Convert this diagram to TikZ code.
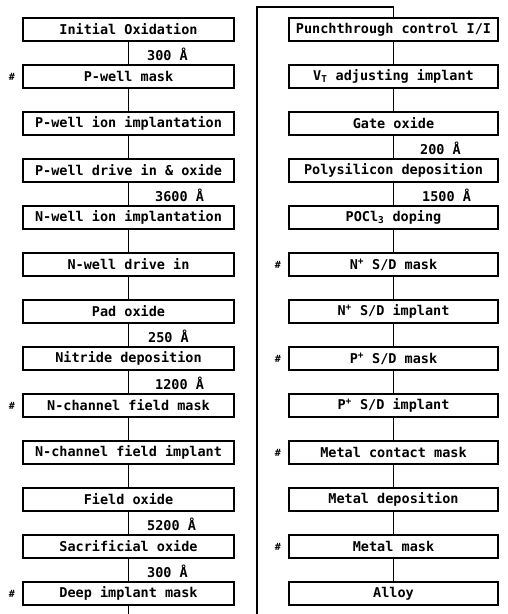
\documentclass[tikz,border=0pt]{standalone}
\usepackage{fontspec}
\setmonofont{DejaVu Sans Mono}
\begin{document}
\begin{tikzpicture}[x=1pt,y=-1pt,
  txt/.style={font=\ttfamily\bfseries\fontsize{13.5}{13.5}\selectfont},
  stepbox/.style={txt, draw, line width=1.2pt, minimum height=23pt, inner sep=0pt},
  lbox/.style={stepbox, minimum width=211pt},
  rbox/.style={stepbox, minimum width=209pt},
  thk/.style={txt, inner sep=0pt, anchor=west},
  hashmark/.style={font=\ttfamily\bfseries\fontsize{10}{10}\selectfont, inner sep=0pt},
  conn/.style={line width=1.2pt}]
\useasboundingbox (0,0) rectangle (507,614);
% left column
\node[lbox] (l0) at (128.5,29.5) {Initial Oxidation};
\node[lbox] (l1) at (128.5,76.5) {P-well mask};
\node[lbox] (l2) at (128.5,123.5) {P-well ion implantation};
\node[lbox] (l3) at (128.5,170.5) {P-well drive in \& oxide};
\node[lbox] (l4) at (128.5,217.5) {N-well ion implantation};
\node[lbox] (l5) at (128.5,264.5) {N-well drive in};
\node[lbox] (l6) at (128.5,311.5) {Pad oxide};
\node[lbox] (l7) at (128.5,358.5) {Nitride deposition};
\node[lbox] (l8) at (128.5,405.5) {N-channel field mask};
\node[lbox] (l9) at (128.5,452.5) {N-channel field implant};
\node[lbox] (l10) at (128.5,499.5) {Field oxide};
\node[lbox] (l11) at (128.5,546.5) {Sacrificial oxide};
\node[lbox] (l12) at (128.5,593.5) {Deep implant mask};
% right column
\node[rbox] (r0) at (393.5,29.5) {Punchthrough control I/I};
\node[rbox] (r1) at (393.5,76.5) {V\textsubscript{T} adjusting implant};
\node[rbox] (r2) at (393.5,123.5) {Gate oxide};
\node[rbox] (r3) at (393.5,170.5) {Polysilicon deposition};
\node[rbox] (r4) at (393.5,217.5) {POCl\textsubscript{3} doping};
\node[rbox] (r5) at (393.5,264.5) {N\textsuperscript{+} S/D mask};
\node[rbox] (r6) at (393.5,311.5) {N\textsuperscript{+} S/D implant};
\node[rbox] (r7) at (393.5,358.5) {P\textsuperscript{+} S/D mask};
\node[rbox] (r8) at (393.5,405.5) {P\textsuperscript{+} S/D implant};
\node[rbox] (r9) at (393.5,452.5) {Metal contact mask};
\node[rbox] (r10) at (393.5,499.5) {Metal deposition};
\node[rbox] (r11) at (393.5,546.5) {Metal mask};
\node[rbox] (r12) at (393.5,593.5) {Alloy};
% connectors
\foreach \a/\b in {0/1,1/2,2/3,3/4,4/5,5/6,6/7,7/8,8/9,9/10,10/11,11/12}{
  \draw[conn] (l\a.south) -- (l\b.north);
  \draw[conn] (r\a.south) -- (r\b.north);
}
\coordinate (bl) at (128.5,614);
\coordinate (br) at (257,614);
\coordinate (tl) at (257,7);
\draw[conn] (l12.south) -- (bl);
\draw[conn] (br) -- (tl) -| (r0.north);
% thickness labels
\node[thk] (t1) at (147,54) {300 Å};
\node[thk] (t2) at (155,195) {3600 Å};
\node[thk] (t3) at (148,336) {250 Å};
\node[thk] (t4) at (155,383) {1200 Å};
\node[thk] (t5) at (147,524) {5200 Å};
\node[thk] (t6) at (147,571) {300 Å};
\node[thk] (t7) at (420,148) {200 Å};
\node[thk] (t8) at (422,195) {1500 Å};
% mask marks
\node[hashmark] (h1) at (12,76.5) {\#};
\node[hashmark] (h2) at (12,405.5) {\#};
\node[hashmark] (h3) at (12,593.5) {\#};
\node[hashmark] (h4) at (278,264.5) {\#};
\node[hashmark] (h5) at (278,358.5) {\#};
\node[hashmark] (h6) at (278,452.5) {\#};
\node[hashmark] (h7) at (278,546.5) {\#};
\end{tikzpicture}
\end{document}
